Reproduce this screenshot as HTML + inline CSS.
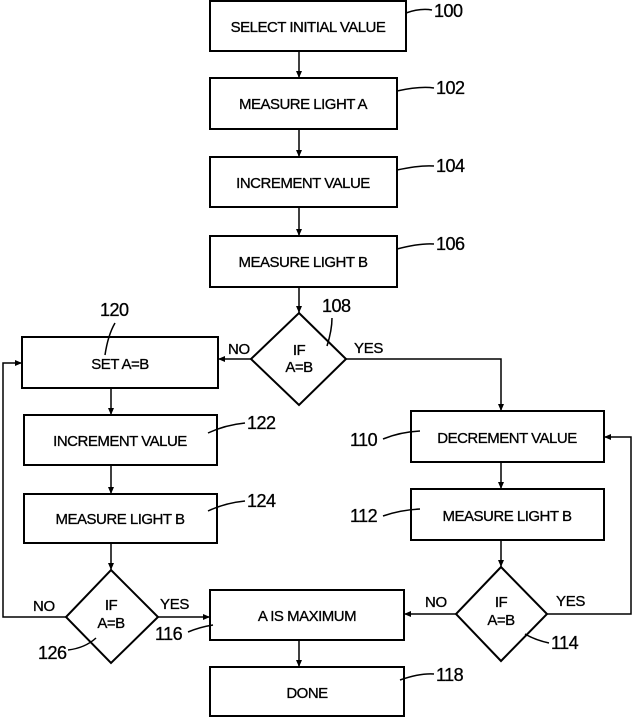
<!DOCTYPE html>
<html><head><style>
body{margin:0;background:#fff;}
svg{display:block}
text{font-family:"Liberation Sans",Arial,sans-serif;fill:#000;}
.b{font-size:15px;text-anchor:middle;letter-spacing:-0.5px;stroke:#000;stroke-width:0.3px}
.n{font-size:18px;letter-spacing:-0.5px;stroke:#000;stroke-width:0.3px}
.l{font-size:15px;letter-spacing:-0.3px;stroke:#000;stroke-width:0.3px}
</style></head><body>
<svg width="634" height="717" viewBox="0 0 634 717" xmlns="http://www.w3.org/2000/svg">
<defs><marker id="a" markerWidth="8" markerHeight="8" refX="7" refY="4" orient="auto" markerUnits="userSpaceOnUse"><path d="M0,1 L7,4 L0,7 z" fill="#000"/></marker></defs>
<g fill="none" stroke="#000" stroke-width="2">
<rect x="210" y="1" width="196" height="50"/>
<rect x="210" y="78" width="187" height="51"/>
<rect x="210" y="157" width="187" height="50"/>
<rect x="210" y="236" width="187" height="51"/>
<polygon points="299,313 346,359 299,405 251,359"/>
<rect x="22" y="337" width="196" height="51"/>
<rect x="24" y="415" width="193" height="50"/>
<rect x="24" y="494" width="193" height="49"/>
<polygon points="111,570 158,617 111,663 66,617"/>
<rect x="210" y="590" width="194" height="50"/>
<rect x="210" y="667" width="194" height="49"/>
<rect x="411" y="411" width="193" height="51"/>
<rect x="411" y="489" width="193" height="51"/>
<polygon points="501,567 547,614 501,661 456,614"/>
</g>
<g fill="none" stroke="#000" stroke-width="1.5">
<line x1="299" y1="51" x2="299" y2="78" marker-end="url(#a)"/>
<line x1="299" y1="129" x2="299" y2="157" marker-end="url(#a)"/>
<line x1="299" y1="207" x2="299" y2="236" marker-end="url(#a)"/>
<line x1="299" y1="287" x2="299" y2="313" marker-end="url(#a)"/>
<line x1="251" y1="359" x2="218" y2="359" marker-end="url(#a)"/>
<polyline points="346,359 501,359 501,411" marker-end="url(#a)"/>
<line x1="111" y1="388" x2="111" y2="415" marker-end="url(#a)"/>
<line x1="111" y1="465" x2="111" y2="494" marker-end="url(#a)"/>
<line x1="111" y1="543" x2="111" y2="570" marker-end="url(#a)"/>
<polyline points="66,617 3,617 3,363 22,363" marker-end="url(#a)"/>
<line x1="158" y1="617" x2="210" y2="617" marker-end="url(#a)"/>
<line x1="501" y1="462" x2="501" y2="489" marker-end="url(#a)"/>
<line x1="501" y1="540" x2="501" y2="567" marker-end="url(#a)"/>
<line x1="456" y1="614" x2="404" y2="614" marker-end="url(#a)"/>
<polyline points="547,614 631,614 631,437 604,437" marker-end="url(#a)"/>
<line x1="299" y1="640" x2="299" y2="667" marker-end="url(#a)"/>
<path d="M406,13 Q420,8 432,10"/>
<path d="M397,91 Q420,86 434,88"/>
<path d="M397,170 Q420,165 434,166"/>
<path d="M397,249 Q420,243 434,244"/>
<path d="M327,346 Q332,330 332,318"/>
<path d="M105,355 Q108,335 115,323"/>
<path d="M208,433 Q225,425 245,423"/>
<path d="M208,511 Q225,503 245,501"/>
<path d="M68,650 Q85,648 96,638"/>
<path d="M188,632 Q200,627 213,625"/>
<path d="M400,680 Q420,673 434,674"/>
<path d="M383,439 Q400,432 420,431"/>
<path d="M383,516 Q400,510 420,509"/>
<path d="M549,643 Q535,640 525,634"/>
</g>
<text class="b" x="308" y="32">SELECT INITIAL VALUE</text>
<text class="b" x="303" y="109">MEASURE LIGHT A</text>
<text class="b" x="303" y="188">INCREMENT VALUE</text>
<text class="b" x="303" y="267">MEASURE LIGHT B</text>
<text class="b" x="120" y="369">SET A=B</text>
<text class="b" x="120" y="446">INCREMENT VALUE</text>
<text class="b" x="120" y="524">MEASURE LIGHT B</text>
<text class="b" x="307" y="621">A IS MAXIMUM</text>
<text class="b" x="307" y="698">DONE</text>
<text class="b" x="507" y="443">DECREMENT VALUE</text>
<text class="b" x="507" y="521">MEASURE LIGHT B</text>
<text class="b" x="299" y="355">IF</text><text class="b" x="299" y="372">A=B</text>
<text class="b" x="111" y="610">IF</text><text class="b" x="111" y="628">A=B</text>
<text class="b" x="501" y="607">IF</text><text class="b" x="501" y="625">A=B</text>
<text class="l" x="228" y="354">NO</text>
<text class="l" x="354" y="353">YES</text>
<text class="l" x="33" y="611">NO</text>
<text class="l" x="160" y="609">YES</text>
<text class="l" x="425" y="607">NO</text>
<text class="l" x="556" y="606">YES</text>
<text class="n" x="434" y="17">100</text>
<text class="n" x="436" y="94">102</text>
<text class="n" x="436" y="172">104</text>
<text class="n" x="436" y="250">106</text>
<text class="n" x="322" y="312">108</text>
<text class="n" x="100" y="316">120</text>
<text class="n" x="247" y="429">122</text>
<text class="n" x="247" y="507">124</text>
<text class="n" x="38" y="659">126</text>
<text class="n" x="155" y="640">116</text>
<text class="n" x="436" y="681">118</text>
<text class="n" x="350" y="446">110</text>
<text class="n" x="350" y="522">112</text>
<text class="n" x="551" y="649">114</text>
</svg>
</body></html>
